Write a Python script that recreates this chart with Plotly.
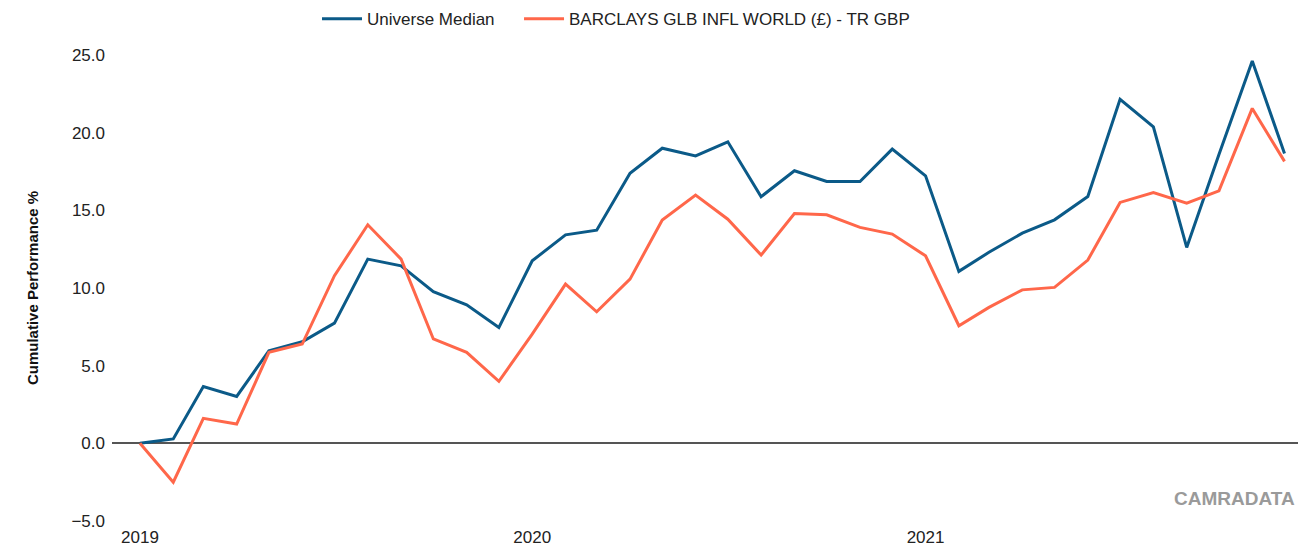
"""
Cumulative performance: universe median vs Barclays global inflation-linked index.
"""

import pandas as pd
import plotly.graph_objects as go

months = pd.date_range("2019-01-01", "2021-12-01", freq="MS")

universe_median = [
    0.0, 0.28, 3.66, 3.02, 5.96, 6.54, 7.74, 11.86, 11.43, 9.76, 8.92, 7.46,
    11.75, 13.42, 13.72, 17.39, 19.0, 18.5, 19.41, 15.88, 17.55, 16.86, 16.86, 18.94,
    17.22, 11.07, 12.3, 13.53, 14.39, 15.89, 22.15, 20.37, 12.61, 18.6, 24.62, 18.66,
]
barclays_infl = [
    0.0, -2.5, 1.61, 1.24, 5.86, 6.39, 10.79, 14.07, 11.86, 6.72, 5.86, 3.99,
    7.03, 10.25, 8.47, 10.57, 14.37, 15.98, 14.43, 12.12, 14.8, 14.71, 13.9, 13.47,
    12.07, 7.57, 8.75, 9.88, 10.04, 11.8, 15.51, 16.15, 15.46, 16.25, 21.56, 18.15,
]

series_names = ["Universe Median", "BARCLAYS GLB INFL WORLD (£) - TR GBP"]
series_colors = ["#0b5a88", "#ff674a"]
series_legends = ["legend", "legend2"]

base_font = "Liberation Sans, Arial, sans-serif"

fig = go.Figure()
for name, values, color, lg in zip(series_names, [universe_median, barclays_infl],
                                   series_colors, series_legends):
    fig.add_trace(go.Scatter(
        x=months, y=values, name=name, mode="lines",
        line=dict(color=color, width=3), legend=lg,
    ))

# page body has an 8px margin, so the figure is sized to fit inside the window
legend_style = dict(
    orientation="h", y=1.077, yanchor="middle", xanchor="left",
    font=dict(family=base_font, size=17, color="#222"),
    itemwidth=40, bgcolor="rgba(0,0,0,0)",
)
fig.update_layout(
    width=1298, height=543,
    margin=dict(l=104, r=0, t=47, b=30, autoexpand=False),
    paper_bgcolor="white", plot_bgcolor="white",
    font=dict(family=base_font, size=17, color="#222"),
    showlegend=True,
    legend=dict(x=0.1717, **legend_style),
    legend2=dict(x=0.3409, **legend_style),
    annotations=[dict(
        text="<b>CAMRADATA</b>", xref="paper", yref="paper",
        x=0.9925, y=0.0487, xanchor="right", yanchor="middle", showarrow=False,
        font=dict(family=base_font, size=19, color="#9a9a9a"),
    )],
)

fig.update_xaxes(
    range=["2018-12-06", "2021-12-21"],
    dtick="M12", tick0="2019-01-01", tickformat="%Y",
    showgrid=False, showline=False, zeroline=False,
    ticks="", ticklabelstandoff=4, automargin=False,
)
fig.update_yaxes(
    range=[-5, 25], dtick=5, tickformat=".1f",
    showgrid=False, showline=False,
    zeroline=True, zerolinecolor="#555", zerolinewidth=2,
    ticks="", ticklabelstandoff=6, automargin=False,
    title=dict(
        text="<b>Cumulative Performance %</b>", standoff=29,
        font=dict(family=base_font, size=15, color="#111"),
    ),
)

fig.write_html("out.html")
